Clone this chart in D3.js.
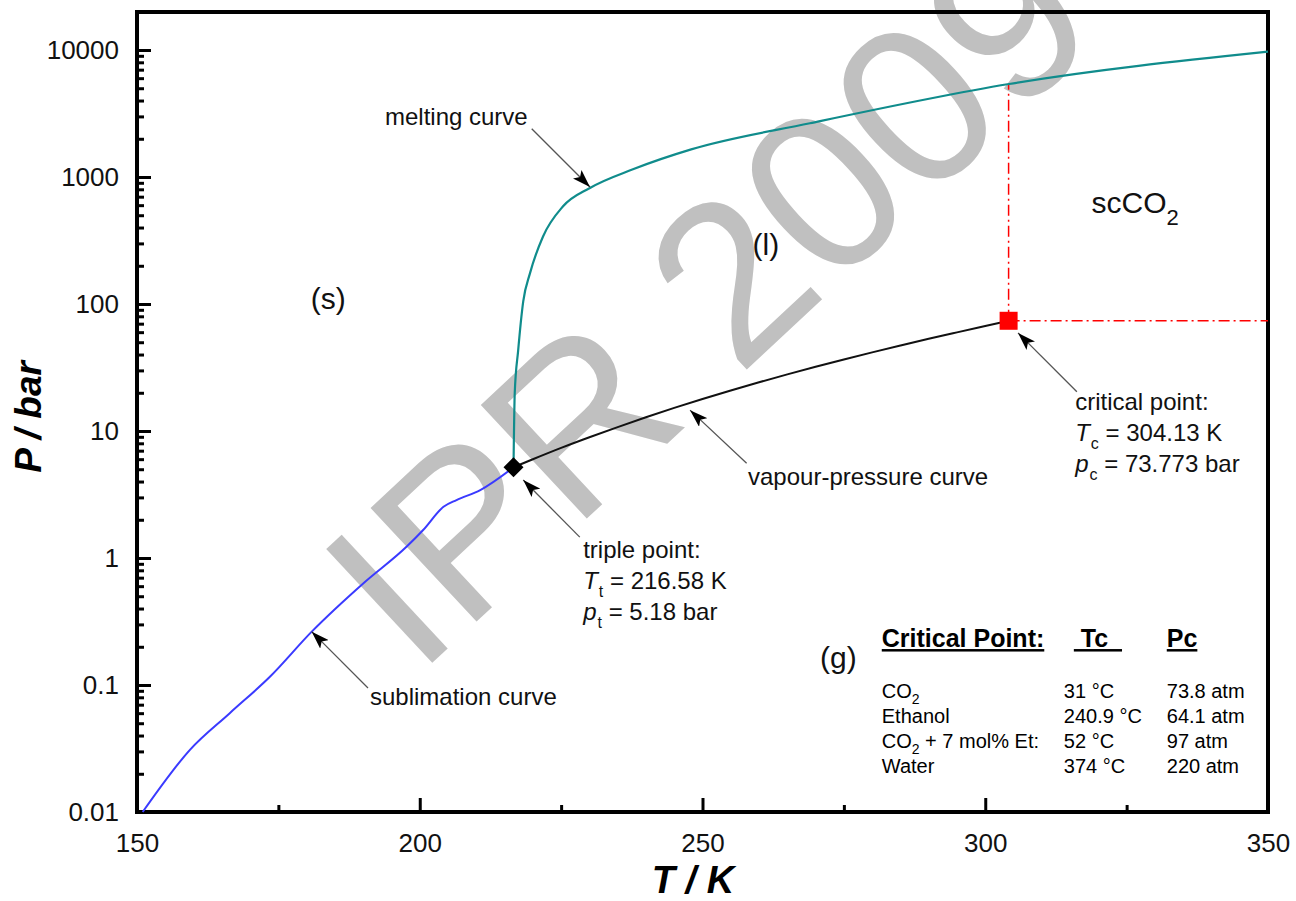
<!DOCTYPE html>
<html>
<head>
<meta charset="utf-8">
<script src="https://cdn.jsdelivr.net/npm/d3@7"></script>
<style>
  body { margin: 0; background: #fff; }
  svg { font-family: "Liberation Sans", Arial, sans-serif; }
</style>
</head>
<body>
<svg id="chart" width="1296" height="901"></svg>
<script>
// phase boundaries of CO2, [T in K, p in bar]
const sublimation = [
  [151, 0.01], [159.4, 0.031], [166.4, 0.06], [173.5, 0.116], [180.9, 0.263],
  [190, 0.63], [197.7, 1.23], [200.6, 1.66], [204.2, 2.53], [206.5, 2.86],
  [210.7, 3.43], [216.58, 5.18]
];
const melting = [
  [216.58, 5.18], [216.8, 20], [217.4, 43], [218.3, 105], [219.5, 175],
  [221.8, 340], [225.3, 585], [230.1, 820], [237.7, 1150], [248, 1650],
  [269, 2650], [304.2, 5400], [350, 9700]
];
const vapour = [
  [216.58, 5.18], [220, 5.99], [225, 7.36], [230, 8.93], [235, 10.73],
  [240, 12.83], [245, 15.2], [250, 17.85], [255, 20.85], [260, 24.19],
  [265, 27.9], [270, 32.03], [275, 36.6], [280, 41.6], [285, 47.1],
  [290, 53.2], [295, 59.8], [300, 67.1], [304.13, 73.773]
];
const triplePoint = [216.58, 5.18];
const criticalPoint = [304.13, 73.773];

const tTicks = [150, 200, 250, 300, 350];
const tMinor = [175, 225, 275, 325];
const pTicks = [0.01, 0.1, 1, 10, 100, 1000, 10000];
const pLabels = ['0.01', '0.1', '1', '10', '100', '1000', '10000'];

// table of critical points
const tableNames = [['CO', '2', ''], ['Ethanol', '', ''], ['CO', '2', ' + 7 mol% Et:'], ['Water', '', '']];
const tableTc = ['31 °C', '240.9 °C', '52 °C', '374 °C'];
const tablePc = ['73.8 atm', '64.1 atm', '97 atm', '220 atm'];

const svg = d3.select('#chart');
const plotL = 137, plotR = 1268, plotT = 12, plotB = 812;

const x = d3.scaleLinear().domain([150, 350]).range([plotL, plotR]);
const y = d3.scaleLog().domain([0.01, 10000]).range([plotB, 50]);

// watermark
svg.append('text')
  .attr('transform', 'translate(417,677) rotate(-43)')
  .attr('font-size', 226)
  .attr('fill', '#c0c0c0')
  .text('IPR 2009');

// minor log ticks
const minorP = [];
for (let e = -2; e < 4; e++) for (let m = 2; m <= 9; m++) minorP.push(m * Math.pow(10, e));

const gy = svg.append('g').attr('transform', `translate(${plotL},0)`);
gy.call(d3.axisLeft(y).tickValues(pTicks).tickFormat((d, i) => pLabels[i])
  .tickSize(-14).tickSizeOuter(0).tickPadding(18));
gy.append('g').call(d3.axisLeft(y).tickValues(minorP).tickFormat('').tickSize(-7).tickSizeOuter(0));

const gx = svg.append('g').attr('transform', `translate(0,${plotB})`);
gx.call(d3.axisBottom(x).tickValues(tTicks).tickFormat(d3.format('d'))
  .tickSize(-14).tickSizeOuter(0).tickPadding(22));
gx.append('g').call(d3.axisBottom(x).tickValues(tMinor).tickFormat('').tickSize(-7).tickSizeOuter(0));

svg.selectAll('.domain').remove();
svg.selectAll('.tick line').attr('stroke', '#000').attr('stroke-width', 3);
svg.selectAll('.tick text').attr('font-size', 26).attr('fill', '#111')
  .attr('font-family', '"Liberation Sans", Arial, sans-serif');

// frame
svg.append('rect')
  .attr('x', plotL).attr('y', plotT)
  .attr('width', plotR - plotL).attr('height', plotB - plotT)
  .attr('fill', 'none').attr('stroke', '#000').attr('stroke-width', 4);

// axis titles
svg.append('text')
  .attr('x', 693).attr('y', 893)
  .attr('text-anchor', 'middle')
  .attr('font-size', 38).attr('font-weight', 'bold').attr('font-style', 'italic')
  .text('T / K');
svg.append('text')
  .attr('transform', 'translate(41,417) rotate(-90)')
  .attr('text-anchor', 'middle')
  .attr('font-size', 37).attr('font-weight', 'bold').attr('font-style', 'italic')
  .text('P / bar');

// critical isotherm / isobar
function logInterp(data, t) {
  for (let i = 1; i < data.length; i++) {
    if (t <= data[i][0]) {
      const a = data[i - 1], b = data[i];
      const f = (t - a[0]) / (b[0] - a[0]);
      return Math.pow(10, Math.log10(a[1]) + f * (Math.log10(b[1]) - Math.log10(a[1])));
    }
  }
  return data[data.length - 1][1];
}
const dashes = '11,4,2,4';
svg.append('line')
  .attr('x1', x(criticalPoint[0])).attr('x2', x(criticalPoint[0]))
  .attr('y1', y(criticalPoint[1])).attr('y2', y(logInterp(melting, criticalPoint[0])))
  .attr('stroke', '#ff0000').attr('stroke-width', 1.5).attr('stroke-dasharray', dashes);
svg.append('line')
  .attr('x1', x(criticalPoint[0])).attr('x2', x(350))
  .attr('y1', y(criticalPoint[1])).attr('y2', y(criticalPoint[1]))
  .attr('stroke', '#ff0000').attr('stroke-width', 1.5).attr('stroke-dasharray', dashes);

// curves
const line = d3.line().x(d => x(d[0])).y(d => y(d[1])).curve(d3.curveMonotoneX);
svg.append('path').datum(sublimation).attr('d', line)
  .attr('fill', 'none').attr('stroke', '#3a3aff').attr('stroke-width', 2);
svg.append('path').datum(melting).attr('d', line)
  .attr('fill', 'none').attr('stroke', '#108c8c').attr('stroke-width', 2.2);
svg.append('path').datum(vapour).attr('d', line)
  .attr('fill', 'none').attr('stroke', '#111').attr('stroke-width', 2);

// points
svg.append('path')
  .attr('d', d3.symbol(d3.symbolSquare, 200)())
  .attr('transform', `translate(${x(triplePoint[0])},${y(triplePoint[1])}) rotate(45)`)
  .attr('fill', '#000');
svg.append('path')
  .attr('d', d3.symbol(d3.symbolSquare, 324)())
  .attr('transform', `translate(${x(criticalPoint[0])},${y(criticalPoint[1])})`)
  .attr('fill', '#ff0000');

// arrowhead
svg.append('defs').append('marker')
  .attr('id', 'ah').attr('markerUnits', 'userSpaceOnUse')
  .attr('markerWidth', 20).attr('markerHeight', 12)
  .attr('refX', 18).attr('refY', 6).attr('orient', 'auto')
  .append('path').attr('d', 'M0,0 L18,6 L0,12 L4,6 Z').attr('fill', '#000');

// annotation arrows: [T0, p0, T1, p1] tail -> tip
const arrows = [
  [219.8, 2400, 230.1, 834],
  [190.85, 0.0946, 180.9, 0.263],
  [257.8, 5.57, 247.8, 14.6],
  [228.3, 1.46, 218.3, 4.11],
  [316.2, 20.4, 305.8, 59.2]
];
svg.selectAll('.arrow').data(arrows).enter().append('line')
  .attr('class', 'arrow')
  .attr('x1', d => x(d[0])).attr('y1', d => y(d[1]))
  .attr('x2', d => x(d[2])).attr('y2', d => y(d[3]))
  .attr('stroke', '#555').attr('stroke-width', 1.3)
  .attr('marker-end', 'url(#ah)');

function label(t, p, str, size, anchor) {
  return svg.append('text')
    .attr('x', x(t)).attr('y', y(p))
    .attr('font-size', size).attr('fill', '#111')
    .attr('text-anchor', anchor || 'start')
    .text(str);
}
label(193.85, 2565, 'melting curve', 24);
label(191.2, 0.0696, 'sublimation curve', 24);
label(258.05, 3.76, 'vapour-pressure curve', 24);
label(183.8, 111, '(s)', 30, 'middle').attr('dy', '0.35em');
label(261.2, 292, '(l)', 30, 'middle').attr('dy', '0.35em');
label(270.8, 0.136, '(g)', 30);

const sc = label(318.8, 521, 'scCO', 30);
sc.append('tspan').attr('font-size', 22).attr('dy', 12).text('2');

// triple & critical point texts
function pointText(t, p, title, sub, val) {
  const g = svg.append('g').attr('transform', `translate(${x(t)},${y(p)})`).attr('font-size', 24).attr('fill', '#111');
  g.append('text').text(title);
  ['T', 'p'].forEach((sym, i) => {
    const tx = g.append('text').attr('y', 31 * (i + 1));
    tx.append('tspan').attr('font-style', 'italic').text(sym);
    tx.append('tspan').attr('font-size', 16).attr('dx', 1).attr('dy', 8).text(sub);
    tx.append('tspan').attr('dy', -8).text(' = ' + val[i]);
  });
}
pointText(228.9, 1.0, 'triple point:', 't', ['216.58 K', '5.18 bar']);
pointText(315.9, 14.6, 'critical point:', 'c', ['304.13 K', '73.773 bar']);

// critical point table
const tab = svg.append('g').attr('transform', `translate(${x(281.7)},${y(0.199)})`).attr('fill', '#000');
const head = tab.append('text').attr('font-size', 25).attr('font-weight', 'bold')
  .attr('text-decoration', 'underline').style('white-space', 'pre');
head.append('tspan').text('Critical Point:');
head.append('tspan').attr('x', x(313.9) - x(281.7) + 10).text(' Tc\u00a0\u00a0');
head.append('tspan').attr('x', x(332.1) - x(281.7)).text('Pc');

const rows = tab.selectAll('.row').data(tableNames).enter().append('g')
  .attr('class', 'row')
  .attr('transform', (d, i) => `translate(0,${51 + i * 25})`)
  .attr('font-size', 20);
const nm = rows.append('text');
nm.append('tspan').text(d => d[0]);
nm.append('tspan').attr('font-size', 14).attr('dy', 6).text(d => d[1]);
nm.append('tspan').attr('dy', d => d[1] ? -6 : 0).text(d => d[2]);
rows.append('text').attr('x', x(313.9) - x(281.7)).text((d, i) => tableTc[i]);
rows.append('text').attr('x', x(332.1) - x(281.7)).text((d, i) => tablePc[i]);
</script>
</body>
</html>
